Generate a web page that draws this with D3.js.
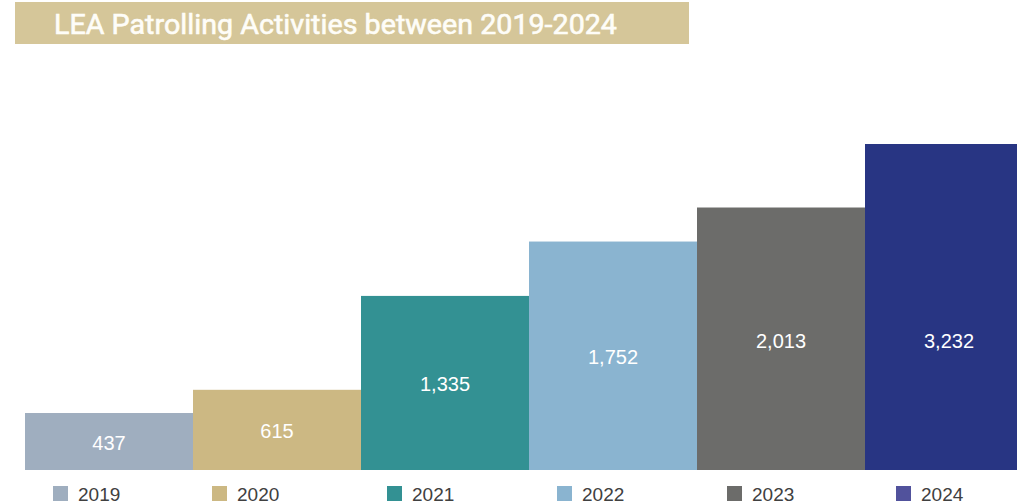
<!DOCTYPE html>
<html><head><meta charset="utf-8">
<script src="https://cdn.jsdelivr.net/npm/d3@7"></script>
<style>html,body{margin:0;padding:0;background:#fff;overflow:hidden}</style>
</head><body>
<svg id="chart" width="1017" height="503"></svg>
<script>
const titleText = "LEA Patrolling Activities between 2019-2024";
const years = ["2019", "2020", "2021", "2022", "2023", "2024"];
const patrols = [437, 615, 1335, 1752, 2013, 3232];
const barColors = ["#9FAEBF", "#CCB883", "#339193", "#8AB4D0", "#6C6C6A", "#283583"];
const legendColors = ["#9FAEBF", "#CCB883", "#339193", "#8AB4D0", "#6C6C6A", "#51529C"];
const yMax = 2500;

// layout constants (legend swatch left edges)
const legendX = [53, 212, 387, 557, 727, 896];

const svg = d3.select("#chart");

// title banner
svg.append("rect").attr("x", 15).attr("y", 2).attr("width", 674).attr("height", 42).attr("fill", "#D5C699");
svg.append("text").attr("x", 54).attr("y", 34)
  .attr("font-family", "Roboto, 'Open Sans', sans-serif").attr("font-weight", 400)
  .attr("font-size", 27).attr("fill", "#FEFDF8")
  .attr("stroke", "#FEFDF8").attr("stroke-width", 0.6)
  .attr("textLength", 563).attr("lengthAdjust", "spacingAndGlyphs")
  .text(titleText);

const x = d3.scaleBand().domain(years).range([25, 25 + 168 * years.length]).padding(0);
const y = d3.scaleLinear().domain([0, yMax]).range([470, 144]).clamp(true);
const fmt = d3.format(",");

const data = years.map((yr, i) => ({year: yr, value: patrols[i], color: barColors[i], lcolor: legendColors[i], lx: legendX[i]}));

svg.append("g").selectAll("rect").data(data).join("rect")
  .attr("x", d => x(d.year)).attr("width", x.bandwidth())
  .attr("y", d => y(d.value)).attr("height", d => y(0) - y(d.value))
  .attr("fill", d => d.color);

svg.append("g").selectAll("text").data(data).join("text")
  .attr("x", d => x(d.year) + x.bandwidth() / 2)
  .attr("y", d => Math.max((y(d.value) + y(0)) / 2, y(1000)) + 3)
  .attr("text-anchor", "middle").attr("dominant-baseline", "middle")
  .attr("font-family", "'Liberation Sans', Arial, sans-serif").attr("font-size", 20)
  .attr("fill", "#FFFFFF")
  .text(d => fmt(d.value));

// legend
const lg = svg.append("g").selectAll("g").data(data).join("g")
  .attr("transform", d => `translate(${d.lx},486)`);
lg.append("rect").attr("width", 15).attr("height", 15).attr("fill", d => d.lcolor);
lg.append("text").attr("x", 25).attr("y", 14.5)
  .attr("font-family", "'Liberation Sans', Arial, sans-serif").attr("font-size", 19)
  .attr("fill", "#404040").text(d => d.year);
</script>
</body></html>
